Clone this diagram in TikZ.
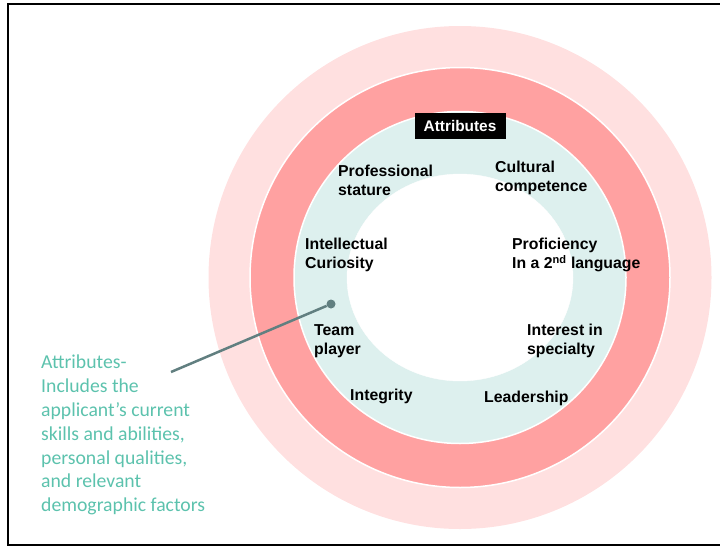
\documentclass[tikz,border=0pt]{standalone}
\usepackage{fontspec}
\setmainfont{Liberation Sans}
\newfontfamily\notefont{Carlito}
\usetikzlibrary{positioning,shapes.geometric}

\definecolor{ringpale}{HTML}{FFE0E0}
\definecolor{ringred}{HTML}{FFA1A1}
\definecolor{ringteal}{HTML}{DDF0EE}
\definecolor{notecol}{HTML}{5CC2AD}
\definecolor{pincol}{HTML}{617F80}

\begin{document}
\begin{tikzpicture}[x=1pt,y=-1pt]
%   rings, outside in:  pale -> red -> teal -> white core
%   attributes sit on the teal ring, note on the left points at it
    \tikzstyle{ring}=[circle, inner sep=0pt, draw=white, line width=1.5pt]
    \tikzstyle{attr}=[anchor=west, align=left, inner sep=0pt, font=\fontsize{15.8}{19}\selectfont\bfseries]
    \useasboundingbox (0,0) rectangle (720,546);
    \draw[line width=2pt] (8,4) rectangle (730,545);

    \coordinate (centre) at (460,277.5);
    \node[ring, fill=ringpale, draw=none, minimum size=503pt] (outer) at (centre) {};
    \node[ring, fill=ringred, minimum size=420pt] (middle) at (centre) {};
    \node[ring, fill=ringteal, minimum size=332pt] (inner) at (centre) {};
    \node[ellipse, inner sep=0pt, fill=white, draw=white, minimum width=226pt, minimum height=207pt] (core) at (centre) {};

    \node[fill=black, text=white, inner sep=0pt, minimum width=91pt, minimum height=26pt,
          font=\fontsize{15.4}{17}\selectfont\bfseries] (title) at (460,126) {Attributes};

    % the attributes
    \node[attr] (stature) at (338,180.5) {Professional\\stature};
    \node[attr] (culture) at (495,178) {Cultural\\competence};
    \node[attr] (curious) at (305,255) {Intellectual\\Curiosity};
    \node[attr] (language) at (512,255) {Proficiency\\In a 2\textsuperscript{nd} language};
    \node[attr] (team) at (314,341) {Team\\player};
    \node[attr] (interest) at (527,341) {Interest in\\specialty};
    \node[attr] (integrity) at (350,396.5) {Integrity};
    \node[attr] (leader) at (484,398) {Leadership};

    % note and pointer
    \node[anchor=north west, align=left, inner sep=0pt, text=notecol,
          font=\notefont\fontsize{19.7}{23.8}\selectfont] (note) at (41,355)
          {Attributes-\\Includes the\\applicant’s current\\skills and abilities,\\personal qualities,\\and relevant\\demographic factors};
    \coordinate (noteend) at (171,372);
    \node[circle, fill=pincol, minimum size=9pt, inner sep=0pt] (pin) at (331,304) {};
    \draw[pincol, line width=2.5pt] (noteend) -- (pin);
\end{tikzpicture}
\end{document}
